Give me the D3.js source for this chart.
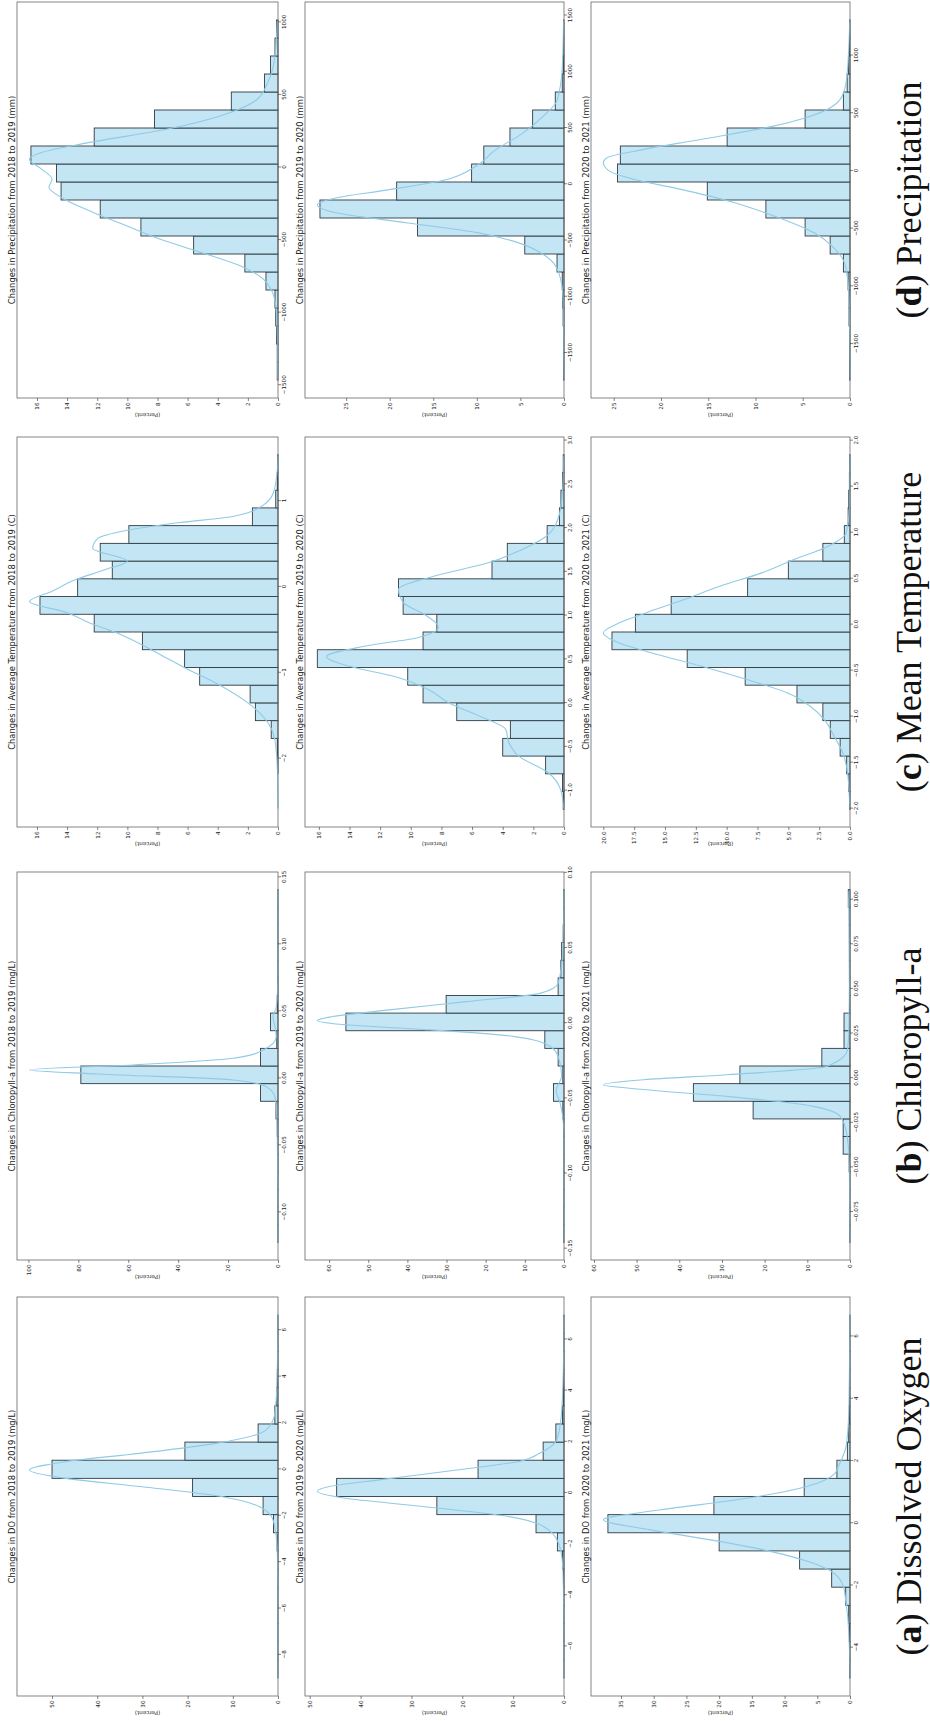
<!DOCTYPE html>
<html><head><meta charset="utf-8">
<script src="https://cdn.jsdelivr.net/npm/d3@7"></script>
<style>body{margin:0;background:#fff}svg{display:block}</style>
</head><body>
<svg id="fig" width="930" height="1721"></svg>
<script>
// ===================== DATA =====================
// bin edges: [first edge, bin width]; percentages per bin; KDE points [value, percent]
// ---- (a) Dissolved Oxygen ----
const doEdge1819 = [-8.99, 0.782];
const doPct1819  = [0.02,0.02,0.02,0.02,0.02,0.02,0.02,0.2,1.0,3.3,18.9,50.0,20.6,4.4,0.7,0.3,0.15,0.1,0.05,0.02];
const doKde1819  = [[-8.98,0],[-6,0.02],[-4.77,0.05],[-3.33,0.2],[-2.18,1.1],[-1.61,4.1],[-1.18,12.2],[-0.75,30],[-0.39,47],[-0.03,55],[0.33,47],[0.69,30.7],[1.12,13.7],[1.7,2.6],[2.41,0.7],[3.85,0.2],[6.0,0.05],[6.65,0]];
const doEdge1920 = [-7.23, 0.709];
const doPct1920  = [0.02,0.02,0.05,0.05,0.05,0.1,0.3,1.3,5.5,25.0,44.7,16.9,4.1,1.6,0.3,0.15,0.1,0.05,0.05,0.02];
const doKde1920  = [[-7.2,0],[-4.7,0.05],[-2.86,0.26],[-1.95,1.1],[-1.3,4.1],[-0.91,11.2],[-0.52,28.2],[-0.2,43.3],[0.065,48.5],[0.26,45.9],[0.52,36],[0.85,23],[1.24,8.6],[1.56,4.7],[2.08,1.4],[3.1,0.5],[5.1,0.1],[6.9,0]];
const doEdge2021 = [-4.97, 0.5827];
const doPct2021  = [0.05,0.05,0.1,0.2,0.66,2.8,7.7,20.0,37.0,20.8,7.0,2.0,0.4,0.2,0.1,0.05,0.05,0.03,0.02,0.02];
const doKde2021  = [[-4.96,0],[-3.97,0.1],[-2.9,0.4],[-2.47,0.66],[-2.04,1.0],[-1.6,2.5],[-1.29,5.6],[-0.857,13.2],[-0.536,21.3],[-0.214,30.5],[0.107,37.7],[0.43,28.9],[0.75,17.3],[1.18,6.6],[1.6,2.3],[1.82,1.8],[2.47,0.6],[3.5,0.2],[5.7,0.05],[6.68,0]];
// ---- (b) Chlorophyll-a ----
const chEdge1819 = [-0.1224, 0.01316];
const chPct1819  = [0.05,0.05,0.05,0.05,0.1,0.1,0.3,0.8,7.0,79.0,7.0,0.5,3.0,0.3,0.2,0.1,0.05,0.05,0.05,0.05];
const chKde1819  = [[-0.122,0],[-0.09,0.05],[-0.06,0.2],[-0.04,0.3],[-0.0286,0.4],[-0.0137,1.3],[-0.0062,4.7],[-0.0012,18],[0.0032,72],[0.0062,99.6],[0.010,58],[0.015,18],[0.021,6],[0.031,0.7],[0.0386,1.2],[0.046,2.0],[0.053,0.7],[0.065,0.2],[0.09,0.05],[0.14,0]];
const chEdge1920 = [-0.1458, 0.01173];
const chPct1920  = [0.05,0.05,0.05,0.05,0.05,0.05,0.1,0.3,2.7,0.3,1.5,4.9,55.7,30.1,1.5,0.8,0.6,0.2,0.1,0.05];
const chKde1920  = [[-0.145,0],[-0.073,0.05],[-0.053,1.0],[-0.045,2.0],[-0.035,0.6],[-0.022,1.5],[-0.0154,3.6],[-0.0088,13],[-0.0044,34.4],[-0.0011,55.7],[0.0018,63],[0.0044,59],[0.0088,44.6],[0.0143,25],[0.0198,6.2],[0.0264,1.5],[0.0485,0.3],[0.088,0.02]];
const chEdge2021 = [-0.092, 0.00988];
const chPct2021  = [0.05,0.05,0.05,0.1,0.2,1.6,1.6,22.7,36.7,25.8,6.6,1.4,1.4,0.1,0.05,0.05,0.02,0.02,0.02,0.4];
const chKde2021  = [[-0.092,0],[-0.049,0.15],[-0.0307,0.8],[-0.0214,2.3],[-0.0158,8.6],[-0.0102,28.9],[-0.0065,47.7],[-0.0037,57.8],[-0.0009,48.4],[0.0019,28.9],[0.0065,5.5],[0.0158,0.6],[0.025,0.3],[0.053,0.15],[0.098,0.3],[0.105,0.2]];
// ---- (c) Mean Temperature ----
const tmEdge1819 = [-2.59, 0.2065];
const tmPct1819  = [0.0,0.0,0.02,0.05,0.45,1.5,1.85,5.2,6.2,9.0,12.2,15.8,13.3,11.0,11.8,9.9,1.7,0.15,0.05,0.02];
const tmKde1819  = [[-2.58,0],[-2.3,0.01],[-1.85,0.15],[-1.6,0.6],[-1.35,2.0],[-1.15,3.8],[-0.95,6.1],[-0.78,7.9],[-0.55,10.5],[-0.42,12.5],[-0.3,14.0],[-0.17,16.5],[-0.05,15.0],[0.08,13.5],[0.2,11.5],[0.3,10.0],[0.45,12.3],[0.56,12.0],[0.66,10.0],[0.75,6.5],[0.82,3.0],[0.95,1.0],[1.1,0.3],[1.35,0.05],[1.53,0]];
const tmEdge1920 = [-1.214, 0.2026];
const tmPct1920  = [0.05,0.1,1.2,4.0,3.5,7.0,9.2,10.2,16.1,9.2,8.3,10.5,10.8,4.7,3.7,1.1,0.3,0.2,0.1,0.05];
const tmKde1920  = [[-1.21,0.01],[-1.0,0.2],[-0.8,1.0],[-0.6,3.0],[-0.45,3.6],[-0.3,3.8],[-0.15,5.5],[0.0,7.5],[0.15,8.8],[0.3,11.0],[0.42,14.0],[0.53,15.5],[0.65,13.0],[0.75,9.5],[0.87,8.2],[1.0,9.0],[1.15,10.5],[1.3,10.8],[1.45,8.5],[1.6,5.0],[1.75,2.8],[1.9,1.2],[2.1,0.4],[2.4,0.1],[2.83,0.02]];
const tmEdge2021 = [-2.007, 0.1927];
const tmPct2021  = [0.03,0.1,0.27,0.8,1.6,2.2,4.3,8.5,13.2,19.3,17.4,14.5,8.3,5.0,2.2,0.46,0.15,0.1,0.05,0.03];
const tmKde2021  = [[-2.0,0.01],[-1.94,0.03],[-1.61,0.2],[-1.39,0.6],[-1.21,1.3],[-1.03,2.1],[-0.89,3.2],[-0.74,5.1],[-0.6,8.3],[-0.45,12.1],[-0.31,16.0],[-0.2,18.7],[-0.09,20.0],[0.02,18.7],[0.13,16.5],[0.27,13.5],[0.42,10.5],[0.56,7.2],[0.71,4.5],[0.85,1.8],[1.0,0.3],[1.32,0.03],[1.84,0.01]];
// ---- (d) Precipitation ----
const prEdge1819 = [-1464, 124];
const prPct1819  = [0.05,0.05,0.1,0.15,0.2,0.8,2.2,5.6,9.1,11.8,14.4,14.7,16.4,12.2,8.2,3.1,0.9,0.5,0.2,0.1];
const prKde1819  = [[-1460,0.02],[-1300,0.03],[-1130,0.05],[-947,0.15],[-788,0.8],[-674,2.6],[-582,5.2],[-491,7.9],[-400,10.1],[-308,12.3],[-217,14.2],[-137,15.2],[-80,15.0],[-11,15.7],[57,16.5],[103,15.7],[171,12.6],[263,7.4],[377,3.2],[468,1.4],[582,0.7],[765,0.2],[1010,0.05]];
const prEdge1920 = [-1740, 160];
const prPct1920  = [0.05,0.05,0.05,0.1,0.15,0.2,0.8,4.5,16.8,28.0,19.2,10.6,9.2,6.2,3.6,1.0,0.2,0.1,0.05,0.05];
const prKde1920  = [[-1735,0],[-1668,0.01],[-1300,0.05],[-1021,0.1],[-785,0.6],[-638,2.1],[-521,5.2],[-432,9.8],[-344,17.9],[-256,26],[-182,28.3],[-124,26.3],[-50,20.2],[38,13.7],[156,10.2],[303,7.9],[450,4.8],[597,2.5],[744,0.8],[1038,0.2],[1455,0.05]];
const prEdge2021 = [-1812, 156];
const prPct2021  = [0.05,0.05,0.05,0.1,0.1,0.2,0.7,2.1,4.75,8.9,15.1,24.6,24.3,13.0,4.75,0.7,0.3,0.15,0.05,0.05];
const prKde2021  = [[-1810,0],[-1500,0.03],[-1106,0.1],[-819,0.5],[-675,1.6],[-532,3.9],[-388,8.1],[-273,12.3],[-158,18.0],[-72,22.9],[0,25.5],[72,26.1],[115,25.7],[187,21.8],[273,15.8],[388,8.1],[517,2.8],[618,1.06],[761,0.42],[1049,0.14],[1305,0.03]];

// ---- tick labels ----
const doTicks1819 = [-8,-6,-4,-2,0,2,4,6];
const doTicks1920 = [-6,-4,-2,0,2,4,6];
const doTicks2021 = [-4,-2,0,2,4,6];
const chTicks1819 = [-0.10,-0.05,0.00,0.05,0.10,0.15];
const chTicks1920 = [-0.15,-0.10,-0.05,0.00,0.05,0.10];
const chTicks2021 = [-0.075,-0.050,-0.025,0.000,0.025,0.050,0.075,0.100];
const tmTicks1819 = [-2,-1,0,1];
const tmTicks1920 = [-1.0,-0.5,0.0,0.5,1.0,1.5,2.0,2.5,3.0];
const tmTicks2021 = [-2.0,-1.5,-1.0,-0.5,0.0,0.5,1.0,1.5,2.0];
const prTicks1819 = [-1500,-1000,-500,0,500,1000];
const prTicks1920 = [-1500,-1000,-500,0,500,1000,1500];
const prTicks2021 = [-1500,-1000,-500,0,500,1000];
const pctTicksDo1819 = [0,10,20,30,40,50];
const pctTicksDo1920 = [0,10,20,30,40,50];
const pctTicksDo2021 = [0,5,10,15,20,25,30,35];
const pctTicksCh1819 = [0,20,40,60,80,100];
const pctTicksCh1920 = [0,10,20,30,40,50,60];
const pctTicksCh2021 = [0,10,20,30,40,50,60];
const pctTicksTm1819 = [0,2,4,6,8,10,12,14,16];
const pctTicksTm1920 = [0,2,4,6,8,10,12,14,16];
const pctTicksTm2021 = [0,2.5,5,7.5,10,12.5,15,17.5,20];
const pctTicksPr1819 = [0,2,4,6,8,10,12,14,16];
const pctTicksPr1920 = [0,5,10,15,20,25];
const pctTicksPr2021 = [0,5,10,15,20,25];

// ---- texts ----
const years = ["2018 to 2019","2019 to 2020","2020 to 2021"];
const varNames = ["DO","Chloropyll-a","Average Temperature","Precipitation"];
const varUnits = ["(mg/L)","(mg/L)","(C)","(mm)"];
const panelLetters = ["a","b","c","d"];
const panelNames = ["Dissolved Oxygen","Chloropyll-a","Mean Temperature","Precipitation"];
const yLabel = "(Percent)";

// ===================== LAYOUT =====================
const panels = [
  [[doEdge1819,doPct1819,doKde1819,doTicks1819,pctTicksDo1819,"d","d"],
   [doEdge1920,doPct1920,doKde1920,doTicks1920,pctTicksDo1920,"d","d"],
   [doEdge2021,doPct2021,doKde2021,doTicks2021,pctTicksDo2021,"d","d"]],
  [[chEdge1819,chPct1819,chKde1819,chTicks1819,pctTicksCh1819,".2f","d"],
   [chEdge1920,chPct1920,chKde1920,chTicks1920,pctTicksCh1920,".2f","d"],
   [chEdge2021,chPct2021,chKde2021,chTicks2021,pctTicksCh2021,".3f","d"]],
  [[tmEdge1819,tmPct1819,tmKde1819,tmTicks1819,pctTicksTm1819,"d","d"],
   [tmEdge1920,tmPct1920,tmKde1920,tmTicks1920,pctTicksTm1920,".1f","d"],
   [tmEdge2021,tmPct2021,tmKde2021,tmTicks2021,pctTicksTm2021,".1f",".1f"]],
  [[prEdge1819,prPct1819,prKde1819,prTicks1819,pctTicksPr1819,"d","d"],
   [prEdge1920,prPct1920,prKde1920,prTicks1920,pctTicksPr1920,"d","d"],
   [prEdge2021,prPct2021,prKde2021,prTicks2021,pctTicksPr2021,"d","d"]]
];
// screen positions of the (rotated) panel frames
const rowScreenY = [[1297,1696],[872,1260],[437,827],[2,398]];
const colScreenX = [[17,278],[305,564],[591,850]];
const FULLH = 1721;

const svg = d3.select("#fig");
// the whole figure is drawn upright, then turned 90° counter-clockwise
const fig = svg.append("g").attr("transform", `translate(0,${FULLH}) rotate(-90)`);
const sans = "DejaVu Sans, Liberation Sans, sans-serif";

panels.forEach((row, v) => {
  const X0 = FULLH - rowScreenY[v][1], X1 = FULLH - rowScreenY[v][0];
  row.forEach((p, j) => {
    const [edge, pct, kde, ticks, pticks, fmtX, fmtY] = p;
    const Y0 = colScreenX[j][0], Y1 = colScreenX[j][1];
    const n = pct.length;
    const lo = edge[0], hi = edge[0] + n * edge[1], R = hi - lo;
    const x = d3.scaleLinear().domain([lo - 0.05 * R, hi + 0.05 * R]).range([X0, X1]);
    const ymax = 1.05 * Math.max(d3.max(pct), d3.max(kde, d => d[1]));
    const y = d3.scaleLinear().domain([0, ymax]).range([Y1, Y0]);
    const g = fig.append("g");

    const bins = pct.map((val, k) => ({a: lo + k * edge[1], b: lo + (k + 1) * edge[1], val}));
    g.selectAll("rect.bar").data(bins).join("rect")
      .attr("class", "bar")
      .attr("x", d => x(d.a)).attr("width", d => x(d.b) - x(d.a))
      .attr("y", d => y(d.val)).attr("height", d => Y1 - y(d.val))
      .attr("fill", "#c3e5f4").attr("stroke", "#2e3b44").attr("stroke-width", 0.9);

    g.append("path").datum(kde)
      .attr("d", d3.line().x(d => x(d[0])).y(d => y(d[1])).curve(d3.curveMonotoneX))
      .attr("fill", "none").attr("stroke", "#8fcbe6").attr("stroke-width", 1.1);

    g.append("rect").attr("x", X0).attr("y", Y0).attr("width", X1 - X0).attr("height", Y1 - Y0)
      .attr("fill", "none").attr("stroke", "#666").attr("stroke-width", 0.8);

    const ax = g.append("g").attr("transform", `translate(0,${Y1})`)
      .call(d3.axisBottom(x).tickValues(ticks).tickSize(3).tickPadding(1.5).tickFormat(d3.format(fmtX)));
    const ay = g.append("g").attr("transform", `translate(${X0},0)`)
      .call(d3.axisLeft(y).tickValues(pticks).tickSize(3).tickPadding(1.5).tickFormat(d3.format(fmtY)));
    [ax, ay].forEach(a => {
      a.select(".domain").remove();
      a.selectAll("line").attr("stroke", "#333").attr("stroke-width", 0.6);
      a.selectAll("text").attr("font-family", sans).attr("font-size", 5.6).attr("fill", "#222");
    });

    g.append("text").attr("x", (X0 + X1) / 2).attr("y", Y0 - 2.5)
      .attr("text-anchor", "middle").attr("font-family", sans).attr("font-size", 8.4).attr("fill", "#222")
      .text(`Changes in ${varNames[v]} from ${years[j]} ${varUnits[v]}`);

    g.append("text").attr("transform", `translate(${X0 - 15},${(Y0 + Y1) / 2}) rotate(-90)`)
      .attr("text-anchor", "middle").attr("font-family", sans).attr("font-size", 5.6).attr("fill", "#222")
      .text(yLabel);
  });

  const lab = fig.append("text").attr("x", (X0 + X1) / 2).attr("y", 921)
    .attr("text-anchor", "middle").attr("font-family", "Liberation Serif, DejaVu Serif, serif")
    .attr("font-size", 36).attr("fill", "#111");
  lab.append("tspan").text("(");
  lab.append("tspan").attr("font-weight", "bold").text(panelLetters[v]);
  lab.append("tspan").text(") " + panelNames[v]);
});
</script>
</body></html>
